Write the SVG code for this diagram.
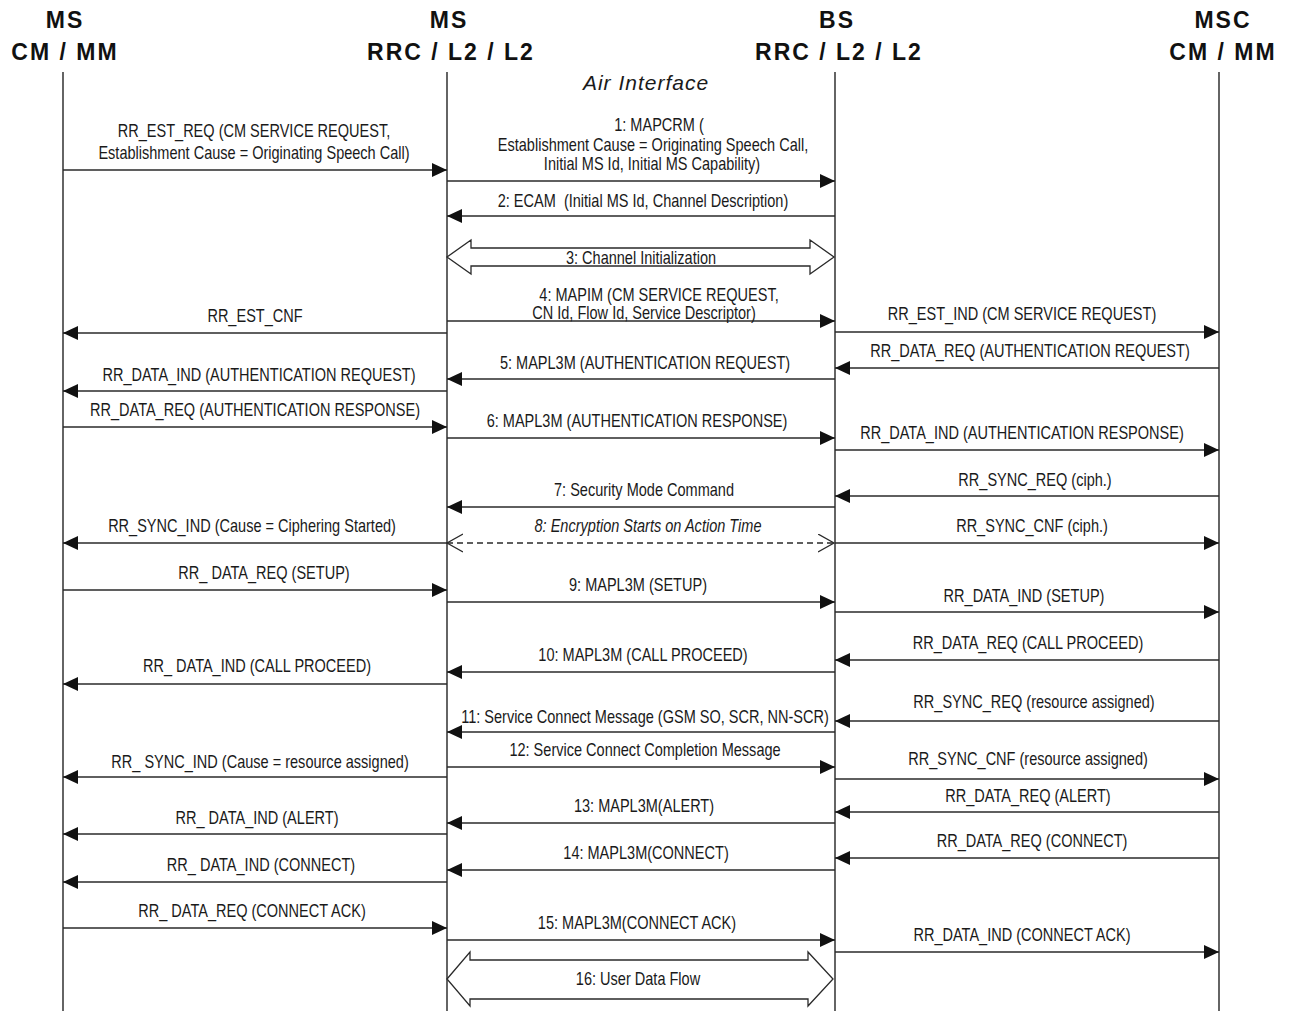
<svg xmlns="http://www.w3.org/2000/svg" width="1293" height="1011" viewBox="0 0 1293 1011">
<style>
  .hdr { font-family: 'Liberation Sans', Arial, sans-serif; font-weight: bold; font-size: 23px; letter-spacing: 2px; text-anchor: middle; fill: #111; }
  .life { stroke: #111; stroke-width: 1.3; fill: none; }
  .lbl { font-family: 'Liberation Sans', Arial, sans-serif; font-size: 17.5px; text-anchor: middle; fill: #1a1a1a; }
  .it { font-style: italic; }
  .msg { stroke: #2a2a2a; stroke-width: 1.6; fill: none; marker-end: url(#ah); }
  .dash { stroke: #2a2a2a; stroke-width: 1.3; fill: none; stroke-dasharray: 6 4; marker-start: url(#oh); marker-end: url(#oh); }
  .big { stroke: #2a2a2a; stroke-width: 1.3; fill: #fff; }
  .air { font-family: 'Liberation Sans', Arial, sans-serif; font-style: italic; font-size: 21px; letter-spacing: 1px; text-anchor: middle; fill: #1a1a1a; }
</style>
<defs>
  <marker id="ah" markerUnits="userSpaceOnUse" markerWidth="16" markerHeight="15" refX="15" refY="7" orient="auto">
    <path d="M0,0 L15,7 L0,14 z" fill="#111"/>
  </marker>
  <marker id="oh" markerUnits="userSpaceOnUse" markerWidth="18" markerHeight="20" refX="16" refY="9.5" orient="auto-start-reverse">
    <path d="M0,0.5 L16,9.5 L0,18.5" fill="none" stroke="#2a2a2a" stroke-width="1.3"/>
  </marker>
</defs>
<rect width="1293" height="1011" fill="#fff"/>

<g id="ms-cm-mm">
  <text class="hdr" x="65" y="28">MS</text>
  <text class="hdr" x="65" y="60">CM / MM</text>
  <line class="life" x1="63" y1="72" x2="63" y2="1011"/>
</g>
<g id="ms-rrc">
  <text class="hdr" x="449" y="28">MS</text>
  <text class="hdr" x="451" y="60">RRC / L2 / L2</text>
  <line class="life" x1="447" y1="72" x2="447" y2="1011"/>
</g>
<g id="bs-rrc">
  <text class="hdr" x="837" y="28">BS</text>
  <text class="hdr" x="839" y="60">RRC / L2 / L2</text>
  <line class="life" x1="835" y1="72" x2="835" y2="1011"/>
</g>
<g id="msc-cm-mm">
  <text class="hdr" x="1223" y="28">MSC</text>
  <text class="hdr" x="1223" y="60">CM / MM</text>
  <line class="life" x1="1219" y1="72" x2="1219" y2="1011"/>
</g>
<g id="air-interface">
  <text class="air" x="646" y="90">Air Interface</text>
</g>

<g id="connectors">
  <line class="msg" x1="63" y1="170" x2="447" y2="170"/>
  <line class="msg" x1="447" y1="181" x2="835" y2="181"/>
  <line class="msg" x1="835" y1="216" x2="447" y2="216"/>
  <polygon class="big" points="447,257 471,240 471,248 810,248 810,240 834,257 810,274 810,266 471,266 471,274"/>
  <line class="msg" x1="447" y1="321" x2="835" y2="321"/>
  <line class="msg" x1="447" y1="333" x2="63" y2="333"/>
  <line class="msg" x1="835" y1="332" x2="1219" y2="332"/>
  <line class="msg" x1="1219" y1="368" x2="835" y2="368"/>
  <line class="msg" x1="835" y1="379" x2="447" y2="379"/>
  <line class="msg" x1="447" y1="391" x2="63" y2="391"/>
  <line class="msg" x1="63" y1="427" x2="447" y2="427"/>
  <line class="msg" x1="447" y1="438" x2="835" y2="438"/>
  <line class="msg" x1="835" y1="450" x2="1219" y2="450"/>
  <line class="msg" x1="1219" y1="496" x2="835" y2="496"/>
  <line class="msg" x1="835" y1="507" x2="447" y2="507"/>
  <line class="msg" x1="447" y1="543" x2="63" y2="543"/>
  <line class="dash" x1="447" y1="543" x2="834" y2="543"/>
  <line class="msg" x1="835" y1="543" x2="1219" y2="543"/>
  <line class="msg" x1="63" y1="590" x2="447" y2="590"/>
  <line class="msg" x1="447" y1="602" x2="835" y2="602"/>
  <line class="msg" x1="835" y1="612" x2="1219" y2="612"/>
  <line class="msg" x1="1219" y1="660" x2="835" y2="660"/>
  <line class="msg" x1="835" y1="672" x2="447" y2="672"/>
  <line class="msg" x1="447" y1="684" x2="63" y2="684"/>
  <line class="msg" x1="1219" y1="721" x2="835" y2="721"/>
  <line class="msg" x1="835" y1="732" x2="447" y2="732"/>
  <line class="msg" x1="447" y1="767" x2="835" y2="767"/>
  <line class="msg" x1="447" y1="777" x2="63" y2="777"/>
  <line class="msg" x1="835" y1="779" x2="1219" y2="779"/>
  <line class="msg" x1="1219" y1="812" x2="835" y2="812"/>
  <line class="msg" x1="835" y1="823" x2="447" y2="823"/>
  <line class="msg" x1="447" y1="834" x2="63" y2="834"/>
  <line class="msg" x1="1219" y1="858" x2="835" y2="858"/>
  <line class="msg" x1="835" y1="870" x2="447" y2="870"/>
  <line class="msg" x1="447" y1="882" x2="63" y2="882"/>
  <line class="msg" x1="63" y1="928" x2="447" y2="928"/>
  <line class="msg" x1="447" y1="940" x2="835" y2="940"/>
  <line class="msg" x1="835" y1="952" x2="1219" y2="952"/>
  <polygon class="big" points="447,979 470,952 470,960 808,960 808,952 833,979 808,1006 808,999 470,999 470,1006"/>
</g>

<g id="labels">
  <text class="lbl" transform="translate(254 137) scale(0.83 1)">RR_EST_REQ (CM SERVICE REQUEST,</text>
  <text class="lbl" transform="translate(254 159) scale(0.83 1)">Establishment Cause = Originating Speech Call)</text>
  <text class="lbl" transform="translate(659 131) scale(0.83 1)">1: MAPCRM (</text>
  <text class="lbl" transform="translate(653 151) scale(0.83 1)">Establishment Cause = Originating Speech Call,</text>
  <text class="lbl" transform="translate(652 170) scale(0.83 1)">Initial MS Id, Initial MS Capability)</text>
  <text class="lbl" transform="translate(643 207) scale(0.83 1)" xml:space="preserve">2: ECAM  (Initial MS Id, Channel Description)</text>
  <text class="lbl" transform="translate(641 264) scale(0.83 1)">3: Channel Initialization</text>
  <text class="lbl" transform="translate(659 301) scale(0.83 1)">4: MAPIM (CM SERVICE REQUEST,</text>
  <text class="lbl" transform="translate(644 319) scale(0.83 1)">CN Id, Flow Id, Service Descriptor)</text>
  <text class="lbl" transform="translate(255 322) scale(0.83 1)">RR_EST_CNF</text>
  <text class="lbl" transform="translate(1022 320) scale(0.83 1)">RR_EST_IND (CM SERVICE REQUEST)</text>
  <text class="lbl" transform="translate(1030 357) scale(0.83 1)">RR_DATA_REQ (AUTHENTICATION REQUEST)</text>
  <text class="lbl" transform="translate(645 369) scale(0.83 1)">5: MAPL3M (AUTHENTICATION REQUEST)</text>
  <text class="lbl" transform="translate(259 381) scale(0.83 1)">RR_DATA_IND (AUTHENTICATION REQUEST)</text>
  <text class="lbl" transform="translate(255 416) scale(0.83 1)">RR_DATA_REQ (AUTHENTICATION RESPONSE)</text>
  <text class="lbl" transform="translate(637 427) scale(0.83 1)">6: MAPL3M (AUTHENTICATION RESPONSE)</text>
  <text class="lbl" transform="translate(1022 439) scale(0.83 1)">RR_DATA_IND (AUTHENTICATION RESPONSE)</text>
  <text class="lbl" transform="translate(1035 486) scale(0.83 1)">RR_SYNC_REQ (ciph.)</text>
  <text class="lbl" transform="translate(644 496) scale(0.83 1)">7: Security Mode Command</text>
  <text class="lbl" transform="translate(252 532) scale(0.83 1)">RR_SYNC_IND (Cause = Ciphering Started)</text>
  <text class="lbl it" transform="translate(648 532) scale(0.83 1)">8: Encryption Starts on Action Time</text>
  <text class="lbl" transform="translate(1032 532) scale(0.83 1)">RR_SYNC_CNF (ciph.)</text>
  <text class="lbl" transform="translate(264 579) scale(0.83 1)">RR_ DATA_REQ (SETUP)</text>
  <text class="lbl" transform="translate(638 591) scale(0.83 1)">9: MAPL3M (SETUP)</text>
  <text class="lbl" transform="translate(1024 602) scale(0.83 1)">RR_DATA_IND (SETUP)</text>
  <text class="lbl" transform="translate(1028 649) scale(0.83 1)">RR_DATA_REQ (CALL PROCEED)</text>
  <text class="lbl" transform="translate(643 661) scale(0.83 1)">10: MAPL3M (CALL PROCEED)</text>
  <text class="lbl" transform="translate(257 672) scale(0.83 1)">RR_ DATA_IND (CALL PROCEED)</text>
  <text class="lbl" transform="translate(1034 708) scale(0.83 1)">RR_SYNC_REQ (resource assigned)</text>
  <text class="lbl" transform="translate(645 723) scale(0.83 1)">11: Service Connect Message (GSM SO, SCR, NN-SCR)</text>
  <text class="lbl" transform="translate(645 756) scale(0.83 1)">12: Service Connect Completion Message</text>
  <text class="lbl" transform="translate(260 768) scale(0.83 1)">RR_ SYNC_IND (Cause = resource assigned)</text>
  <text class="lbl" transform="translate(1028 765) scale(0.83 1)">RR_SYNC_CNF (resource assigned)</text>
  <text class="lbl" transform="translate(1028 802) scale(0.83 1)">RR_DATA_REQ (ALERT)</text>
  <text class="lbl" transform="translate(644 812) scale(0.83 1)">13: MAPL3M(ALERT)</text>
  <text class="lbl" transform="translate(257 824) scale(0.83 1)">RR_ DATA_IND (ALERT)</text>
  <text class="lbl" transform="translate(1032 847) scale(0.83 1)">RR_DATA_REQ (CONNECT)</text>
  <text class="lbl" transform="translate(646 859) scale(0.83 1)">14: MAPL3M(CONNECT)</text>
  <text class="lbl" transform="translate(261 871) scale(0.83 1)">RR_ DATA_IND (CONNECT)</text>
  <text class="lbl" transform="translate(252 917) scale(0.83 1)">RR_ DATA_REQ (CONNECT ACK)</text>
  <text class="lbl" transform="translate(637 929) scale(0.83 1)">15: MAPL3M(CONNECT ACK)</text>
  <text class="lbl" transform="translate(1022 941) scale(0.83 1)">RR_DATA_IND (CONNECT ACK)</text>
  <text class="lbl" transform="translate(638 985) scale(0.83 1)">16: User Data Flow</text>
</g>
</svg>
